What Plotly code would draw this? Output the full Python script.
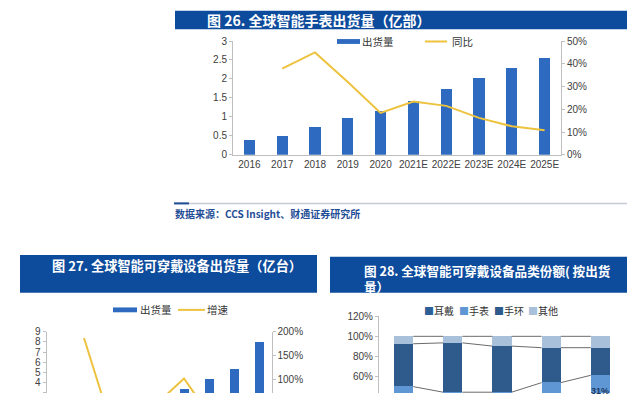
import plotly.graph_objects as go

W, H = 640, 398

# ---------------- data ----------------
# Fig 26: global smartwatch shipments (100M units) and YoY
years26 = ["2016", "2017", "2018", "2019", "2020", "2021E", "2022E", "2023E", "2024E", "2025E"]
shipments26 = [0.38, 0.50, 0.74, 0.97, 1.15, 1.43, 1.74, 2.03, 2.29, 2.55]
yoy26 = [None, 0.379, 0.45, 0.32, 0.184, 0.234, 0.215, 0.162, 0.125, 0.108]

# Fig 27: global smart wearable shipments (100M units) and growth
years27 = ["2014", "2015", "2016", "2017", "2018", "2019", "2020", "2021E", "2022E"]
shipments27 = [0.30, 0.86, 1.05, 1.12, 1.70, 3.37, 4.40, 5.34, 8.06]
growth27 = [None, 1.87, 0.22, 0.07, 0.54, 1.03, 0.29, 0.19, 0.50]

# Fig 28: wearable category share (%)
years28 = ["2016", "2017", "2018", "2019", "2020"]
ear28 = [26.0, 27.0, 29.0, 22.0, 30.3]
watch28 = [24.0, 17.5, 15.5, 32.0, 31.0]
band28 = [42.6, 49.0, 45.8, 34.7, 27.4]
other28 = [7.4, 6.5, 9.7, 11.3, 11.3]

legend26 = ["出货量", "同比"]
legend27 = ["出货量", "增速"]
legend28 = ["耳戴", "手表", "手环", "其他"]

title26 = "图 26. 全球智能手表出货量（亿部）"
title27 = "图 27. 全球智能可穿戴设备出货量（亿台）"
title28 = "图 28. 全球智能可穿戴设备品类份额( 按出货<br>量）"
source26 = "数据来源：CCS Insight、财通证券研究所"

# ---------------- style ----------------
BLUE = "#2E6BC0"
GOLD = "#EDC23E"
TITLE_BG = "#0D4B9C"
AXIS = "#BFBFBF"
TICK = "#404040"
C28 = ["#2D5F99", "#5E97D3", "#2E5B8C", "#A9C0DB"]
FONT = "Liberation Sans, Noto Sans CJK SC, sans-serif"
CJK = "Noto Sans CJK SC, sans-serif"


def fx(p):
    return p / W


def fy(p):
    return 1 - p / H


fig = go.Figure()

# Fig 26
fig.add_trace(go.Bar(x=years26, y=shipments26, xaxis="x", yaxis="y", width=0.34,
                     marker=dict(color=BLUE, line=dict(width=0)), name=legend26[0]))
fig.add_trace(go.Scatter(x=years26, y=yoy26, xaxis="x", yaxis="y2", mode="lines",
                         line=dict(color=GOLD, width=2), name=legend26[1]))

# Fig 27
fig.add_trace(go.Bar(x=years27, y=shipments27, xaxis="x2", yaxis="y3", width=0.33,
                     marker=dict(color=BLUE, line=dict(width=0)), name=legend27[0]))
fig.add_trace(go.Scatter(x=years27, y=growth27, xaxis="x2", yaxis="y4", mode="lines",
                         line=dict(color=GOLD, width=2), name=legend27[1]))

# Fig 28 stacked bars
idx28 = list(range(len(years28)))
BW28 = 0.39
series28 = [ear28, watch28, band28, other28]
for name, vals, col in zip(legend28, series28, C28):
    fig.add_trace(go.Bar(x=idx28, y=vals, xaxis="x3", yaxis="y5", width=BW28,
                         marker=dict(color=col, line=dict(width=0)), name=name))

# series lines connecting segment boundaries between bars
cum = [0.0] * len(years28)
for vals in series28:
    cum = [c + v for c, v in zip(cum, vals)]
    lx, ly = [], []
    for i in range(len(years28) - 1):
        lx += [idx28[i] + BW28 / 2, idx28[i + 1] - BW28 / 2, None]
        ly += [cum[i], cum[i + 1], None]
    fig.add_trace(go.Scatter(x=lx, y=ly, xaxis="x3", yaxis="y5", mode="lines",
                             line=dict(color="#6B6B6B", width=1), hoverinfo="skip"))

# ---------------- axes ----------------
tickfont = dict(family=FONT, size=10, color=TICK)
yax = dict(showline=True, linecolor=AXIS, linewidth=1, ticks="outside", ticklen=3,
           tickcolor=AXIS, showgrid=False, zeroline=False, tickfont=tickfont)

fig.update_layout(
    width=W, height=H,
    margin=dict(l=0, r=0, t=0, b=0),
    paper_bgcolor="white", plot_bgcolor="rgba(0,0,0,0)",
    barmode="stack", showlegend=False, bargap=0,
    xaxis=dict(domain=[fx(233), fx(561)], anchor="y", type="category",
               range=[-0.5, len(years26) - 0.5], showline=True, linecolor=AXIS,
               ticks="", showgrid=False, tickfont=tickfont),
    yaxis=dict(domain=[fy(153), fy(36)], anchor="x", range=[0, 3], dtick=0.5, **yax),
    yaxis2=dict(overlaying="y", side="right", anchor="x", range=[0, 0.5], dtick=0.1,
                tickformat=".0%", **yax),
    xaxis2=dict(domain=[fx(46.5), fx(271.5)], anchor="y3", type="category",
                range=[-0.5, len(years27) - 0.5], showline=False, showticklabels=False,
                ticks="", showgrid=False),
    yaxis3=dict(domain=[0, fy(335)], anchor="x2", range=[2.97, 9], dtick=1, **yax),
    yaxis4=dict(overlaying="y3", side="right", anchor="x2", range=[0.73, 2.0], dtick=0.5,
                tickformat=".0%", **yax),
    xaxis3=dict(domain=[fx(379), fx(625)], anchor="y5", range=[-0.5, len(years28) - 0.5],
                showline=False, showticklabels=False, ticks="", showgrid=False, zeroline=False),
    yaxis5=dict(domain=[0, fy(319)], anchor="x3", range=[43.7, 120], dtick=20,
                ticksuffix="%", **yax),
)

# ---------------- decorations ----------------
shapes = []
# title bars
for (x0, y0, x1, y1) in [(175, 5, 627, 24), (20, 256, 317, 295), (330, 258, 627, 295)]:
    shapes.append(dict(type="rect", xref="paper", yref="paper", x0=fx(x0), x1=fx(x1),
                       y0=fy(y1), y1=fy(y0), fillcolor=TITLE_BG, line=dict(width=0),
                       layer="below"))
# source separator line
shapes.append(dict(type="line", xref="paper", yref="paper", x0=fx(175), x1=fx(627),
                   y0=fy(203), y1=fy(203), line=dict(color="#C5CCD6", width=1.5)))
shapes.append(dict(type="line", xref="paper", yref="paper", x0=fx(174), x1=fx(189),
                   y0=fy(203), y1=fy(203), line=dict(color="#1F4E96", width=2)))
# legend symbols fig26
shapes.append(dict(type="rect", xref="paper", yref="paper", x0=fx(337), x1=fx(360),
                   y0=fy(39), y1=fy(34), fillcolor=BLUE, line=dict(width=0)))
shapes.append(dict(type="line", xref="paper", yref="paper", x0=fx(425), x1=fx(447),
                   y0=fy(36.5), y1=fy(36.5), line=dict(color=GOLD, width=2)))
# legend symbols fig27
shapes.append(dict(type="rect", xref="paper", yref="paper", x0=fx(113), x1=fx(137),
                   y0=fy(315), y1=fy(310), fillcolor=BLUE, line=dict(width=0)))
shapes.append(dict(type="line", xref="paper", yref="paper", x0=fx(178), x1=fx(205),
                   y0=fy(312.5), y1=fy(312.5), line=dict(color=GOLD, width=2)))
fig.update_layout(shapes=shapes)

ann = []


def label(text, x, y, size, color, family=CJK, anchor="left", yanchor="middle"):
    ann.append(dict(text=text, x=fx(x), y=fy(y), xref="paper", yref="paper",
                    xanchor=anchor, yanchor=yanchor, showarrow=False, align="left",
                    font=dict(family=family, size=size, color=color)))


label("<b>" + title26 + "</b>", 205, 14.5, 14, "white")
label("<b>" + title27 + "</b>", 50, 267, 13.2, "white")
label("<b>" + title28 + "</b>", 362, 280, 12.6, "white")
label("<b>" + source26 + "</b>", 173, 213, 10, "#1F4E96")

label(legend26[0], 360, 36.5, 10.5, "#333333")
label(legend26[1], 450, 36.5, 10.5, "#333333")
label(legend27[0], 138, 312.5, 10.5, "#333333")
label(legend27[1], 205, 312.5, 10.5, "#333333")

leg28_x = [422, 457, 491.5, 526]
for name, col, xx in zip(legend28, C28, leg28_x):
    label("<span style='color:%s'>■</span>%s" % (col, name), xx, 313, 10, "#333333")

# value labels for 手表 segments
for i, (e, w) in enumerate(zip(ear28, watch28)):
    ann.append(dict(text="<b>%g%%</b>" % w, x=idx28[i], y=e + w / 2, xref="x3", yref="y5",
                    showarrow=False, font=dict(family=FONT, size=9, color="#1F3A66")))

fig.update_layout(annotations=ann)

fig.write_html("out.html", config={"displayModeBar": False},
               post_script="document.body.style.margin='0';document.body.style.overflow='hidden';")
